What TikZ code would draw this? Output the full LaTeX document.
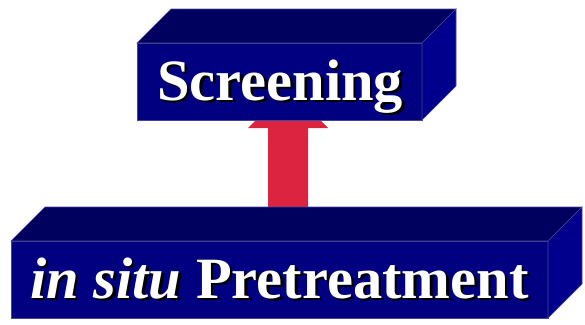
\documentclass[tikz,border=0pt]{standalone}
\usepackage{fontspec}
\setmainfont{Liberation Serif}
\definecolor{frontc}{RGB}{0,0,128}
\definecolor{topc}{RGB}{0,0,94}
\definecolor{sidec}{RGB}{0,0,140}
\definecolor{edgec}{RGB}{70,70,150}
\definecolor{arrowc}{RGB}{220,36,64}
\newcommand{\shadowed}[1]{\makebox[0pt][l]{\hspace{2.5pt}\raisebox{-2.5pt}{\color{black}#1}}#1}
\begin{document}
\begin{tikzpicture}[x=1pt,y=-1pt,
  face/.style={draw=edgec,line width=0.6pt,line join=miter},
  frontface/.style={rectangle,fill=frontc,face,inner sep=0pt,outer sep=0pt},
  bigtext/.style={inner sep=0pt,anchor=base west,text=white,font=\fontsize{58.5}{60}\selectfont\bfseries}]
\useasboundingbox (0,0) rectangle (585,324);
% arrow (drawn first, partly hidden by top box)
\coordinate (atip) at (288,88);
\fill[arrowc] (268,207) -- (268,128) -- (248,128) -- (atip) -- (328,128) -- (308,128) -- (308,207) -- cycle;
% top box
\node[frontface,minimum width=285pt,minimum height=77pt,anchor=north west] (scr) at (137,43) {};
\draw[face,fill=topc] (scr.north west) -- ++(34,-34) -- ++(285,0) -- (scr.north east) -- cycle;
\draw[face,fill=sidec] (scr.north east) -- ++(34,-34) -- ++(0,77) -- (scr.south east) -- cycle;
\node[bigtext] (scrt) at (157,100) {\shadowed{Screening}};
% bottom box
\node[frontface,minimum width=537pt,minimum height=77pt,anchor=north west] (pre) at (11,241) {};
\draw[face,fill=topc] (pre.north west) -- ++(34,-34) -- ++(537,0) -- (pre.north east) -- cycle;
\draw[face,fill=sidec] (pre.north east) -- ++(34,-34) -- ++(0,77) -- (pre.south east) -- cycle;
\node[bigtext] (pret) at (30,298) {\shadowed{\textit{in situ} Pretreatment}};
\end{tikzpicture}
\end{document}
